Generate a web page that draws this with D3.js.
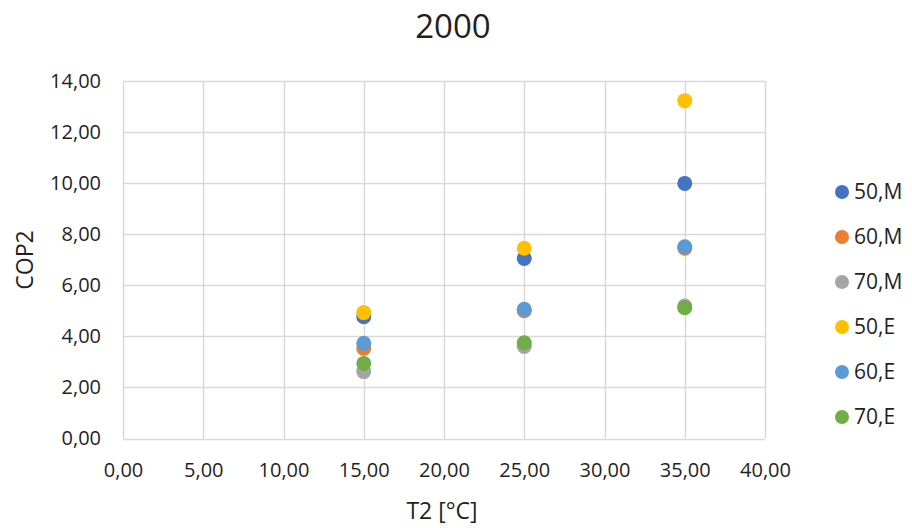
<!DOCTYPE html>
<html>
<head>
<meta charset="utf-8">
<script src="https://cdn.jsdelivr.net/npm/d3@7"></script>
<style>
  html, body { margin: 0; padding: 0; background: #ffffff; }
  svg { display: block; }
  text { font-family: "Open Sans", "Noto Sans", sans-serif; fill: #1f1f1f; }
</style>
</head>
<body>
<svg id="chart" width="912" height="528"></svg>
<script>
// Temperatures T2 [°C]
const temps = [15, 25, 35];

// Series names and COP2 values at each temperature
const seriesNames = ["50,M", "60,M", "70,M", "50,E", "60,E", "70,E"];
const cop50M = [4.77, 7.05, 9.99];
const cop60M = [3.53, 5.00, 7.45];
const cop70M = [2.62, 3.60, 5.19];
const cop50E = [4.93, 7.45, 13.23];
const cop60E = [3.73, 5.06, 7.51];
const cop70E = [2.94, 3.75, 5.12];
const seriesColors = ["#4472C4", "#ED7D31", "#A5A5A5", "#FFC000", "#5B9BD5", "#70AD47"];

// Axis ticks
const xTicks = [0, 5, 10, 15, 20, 25, 30, 35, 40];
const yTicks = [0, 2, 4, 6, 8, 10, 12, 14];

const seriesValues = [cop50M, cop60M, cop70M, cop50E, cop60E, cop70E];
const series = seriesNames.map((name, i) => ({
  name,
  color: seriesColors[i],
  points: temps.map((t, j) => ({ x: t, y: seriesValues[i][j] }))
}));

const svg = d3.select("#chart");
const plot = { left: 123, right: 765, top: 81, bottom: 438.5 };

const x = d3.scaleLinear().domain([0, 40]).range([plot.left, plot.right]);
const y = d3.scaleLinear().domain([0, 14]).range([plot.bottom, plot.top]);

const fmt = d => d3.format(".2f")(d).replace(".", ",");

// Gridlines
const grid = svg.append("g");
grid.selectAll("line.h").data(yTicks).join("line")
  .attr("x1", plot.left).attr("x2", plot.right)
  .attr("y1", d => Math.round(y(d)) + 0.5).attr("y2", d => Math.round(y(d)) + 0.5)
  .attr("stroke", "#d9d9d9").attr("stroke-width", 1.5);
grid.selectAll("line.v").data(xTicks).join("line")
  .attr("y1", plot.top).attr("y2", plot.bottom)
  .attr("x1", d => Math.round(x(d)) + 0.5).attr("x2", d => Math.round(x(d)) + 0.5)
  .attr("stroke", "#d9d9d9").attr("stroke-width", 1.5);

// Axes (labels only; lines come from the grid)
const xAxis = svg.append("g")
  .attr("transform", `translate(0,${plot.bottom})`)
  .call(d3.axisBottom(x).tickValues(xTicks).tickFormat(fmt).tickSize(0).tickPadding(24));
xAxis.select(".domain").remove();
xAxis.selectAll("text").style("font-size", "20px").style("font-family", "\"Open Sans\", sans-serif").attr("fill", "#1f1f1f");

const yAxis = svg.append("g")
  .attr("transform", `translate(${plot.left},0)`)
  .call(d3.axisLeft(y).tickValues(yTicks).tickFormat(fmt).tickSize(0).tickPadding(22));
yAxis.select(".domain").remove();
yAxis.selectAll("text").style("font-size", "20px").style("font-family", "\"Open Sans\", sans-serif").attr("fill", "#1f1f1f");

// Points
series.forEach(s => {
  svg.append("g").selectAll("circle").data(s.points).join("circle")
    .attr("cx", d => x(d.x)).attr("cy", d => y(d.y))
    .attr("r", 7.5).attr("fill", s.color);
});

// Title
svg.append("text").attr("x", 453).attr("y", 38)
  .attr("text-anchor", "middle").style("font-size", "33px").text("2000");

// Axis titles
svg.append("text").attr("x", 442).attr("y", 519)
  .attr("text-anchor", "middle").style("font-size", "23px").text("T2 [°C]");
svg.append("text").attr("transform", "translate(33,260) rotate(-90)")
  .attr("text-anchor", "middle").style("font-size", "23px").text("COP2");

// Legend
const legend = svg.append("g").selectAll("g").data(series).join("g")
  .attr("transform", (d, i) => `translate(842,${192 + i * 45})`);
legend.append("circle").attr("r", 7).attr("fill", d => d.color);
legend.append("text").attr("x", 12).attr("y", 0).attr("dy", "0.35em")
  .style("font-size", "21px").text(d => d.name);
</script>
</body>
</html>
